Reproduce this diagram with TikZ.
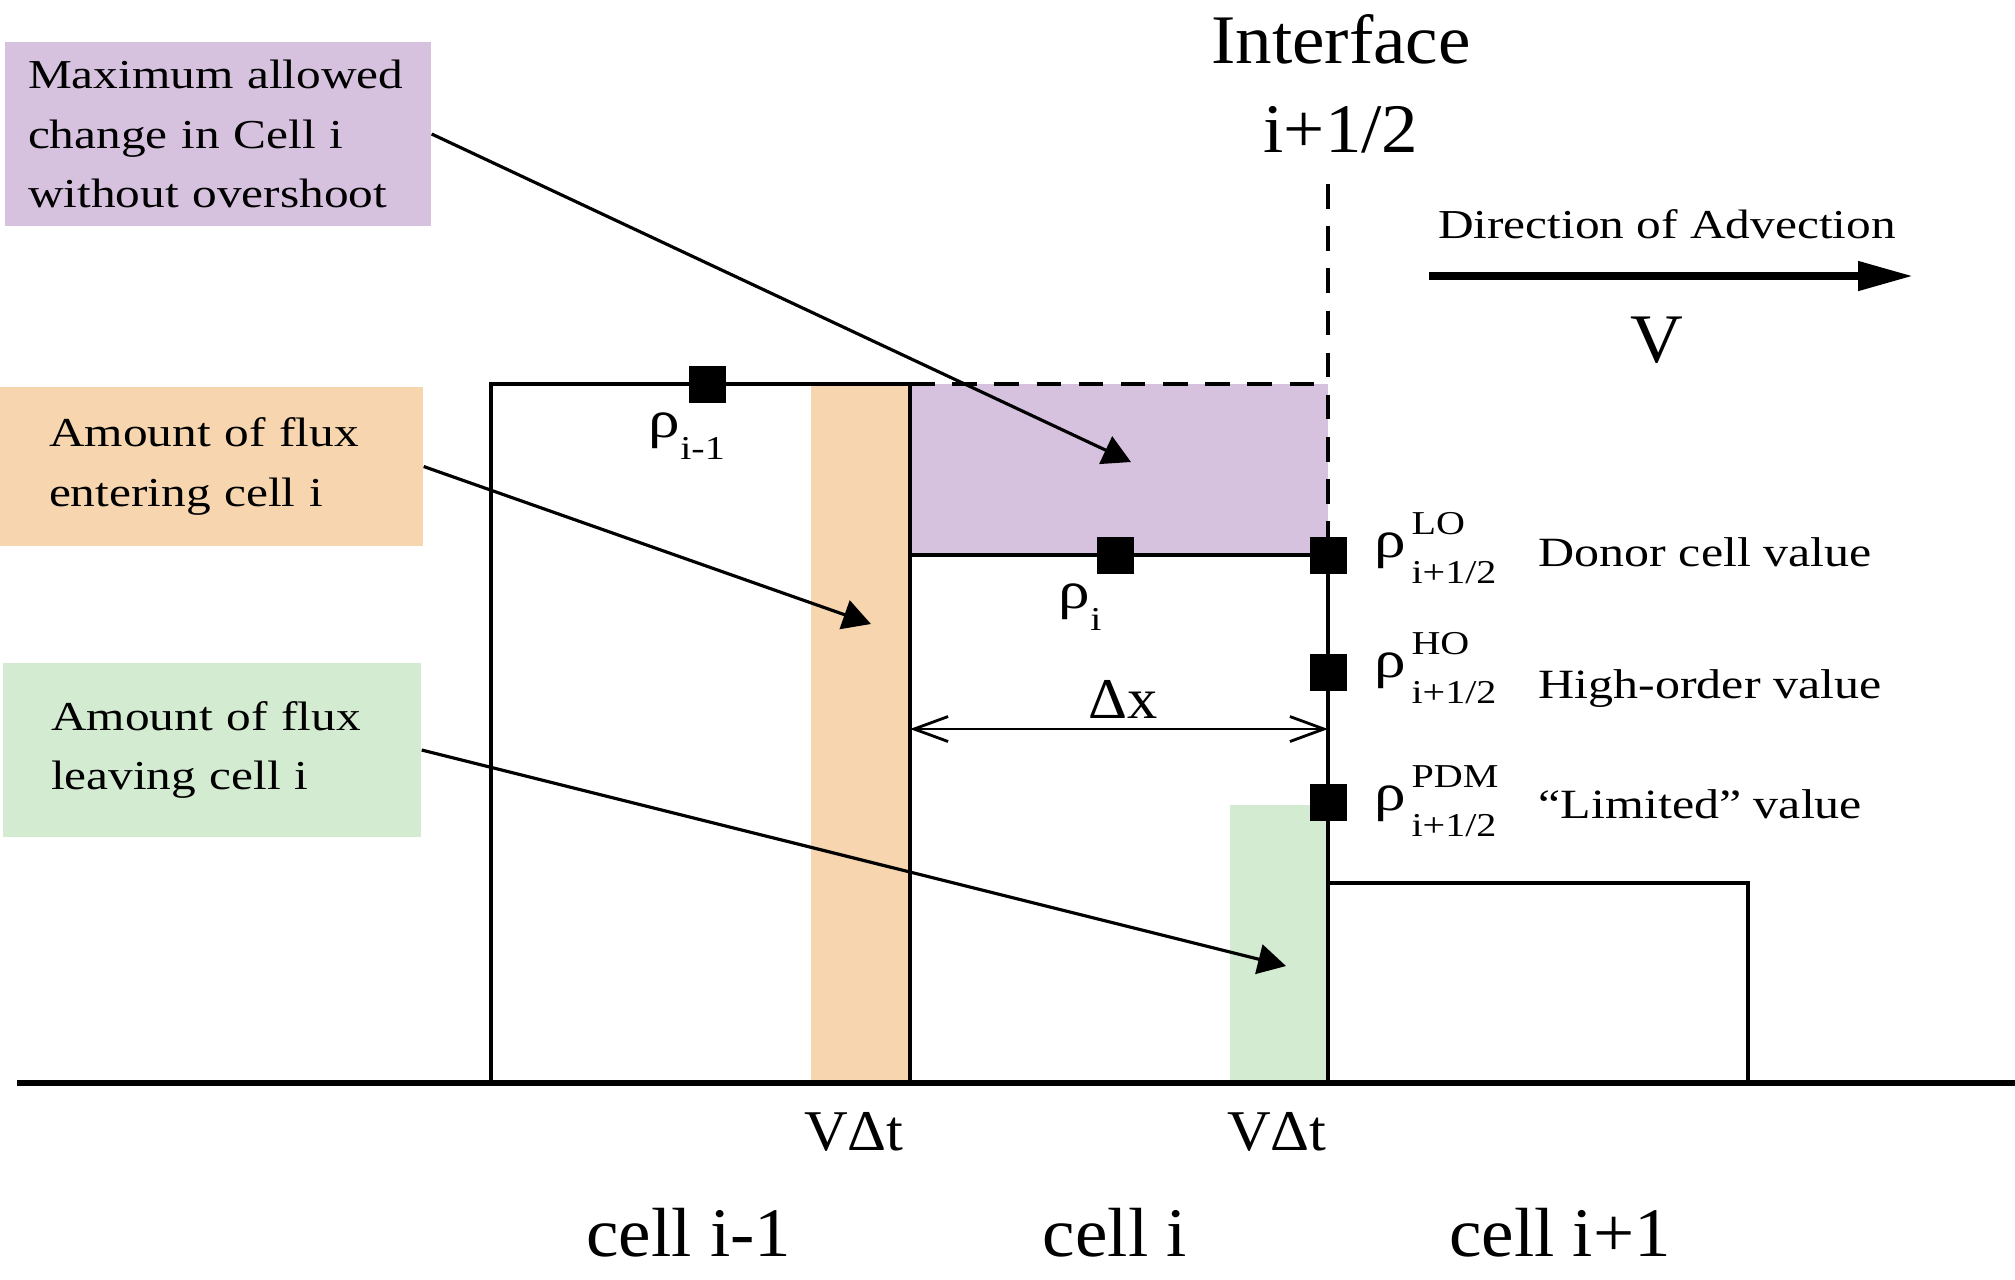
\documentclass[tikz,border=0pt]{standalone}
\usepackage{fontspec}
\setmainfont[FakeStretch=1.2]{Liberation Serif}
\newfontfamily\bigserif[FakeStretch=1.05]{Liberation Serif}
\usetikzlibrary{arrows.meta,positioning}
\definecolor{maxfill}{RGB}{214,194,222}
\definecolor{influx}{RGB}{246,213,175}
\definecolor{outflux}{RGB}{211,235,209}
\newcommand{\idxfont}{\fontsize{9.5}{10}\selectfont}
\newcommand{\dens}[2]{ρ\hspace{1.5pt}\rlap{\raisebox{6.5pt}{\idxfont #1}}\raisebox{-7.5pt}{\idxfont #2}}

\begin{document}
\begin{tikzpicture}[x=0.1mm,y=-0.1mm,
  every node/.style={inner sep=0pt},
  wall/.style={line width=1.2pt},
  iface/.style={line width=0.9pt},
  dashwall/.style={line width=1.2pt,dash pattern=on 7pt off 5pt},
  valsq/.style={fill=black,minimum size=3.7mm},
  infobox/.style={align=left,font=\fontsize{11.7}{17}\selectfont},
  pointer/.style={-{Triangle[length=2.8mm,width=3mm]},line width=0.9pt},
  advect/.style={-{Triangle[length=5.5mm,width=2.8mm]},line width=2.2pt},
  dimarrow/.style={{Straight Barb[length=3.4mm,width=2.5mm]}-{Straight Barb[length=3.4mm,width=2.5mm]},line width=0.8pt},
  bigtext/.style={font=\bigserif\fontsize{19.8}{23}\selectfont},
  desctext/.style={font=\fontsize{11.85}{15}\selectfont},
  rholabel/.style={font=\fontsize{15}{17}\selectfont},
  deltatext/.style={font=\bigserif\fontsize{16.4}{19}\selectfont}]
\useasboundingbox (0,0) rectangle (2015,1279);

\fill[influx] (811,384) rectangle (910,1083);
\fill[outflux] (1230,805) rectangle (1328,1083);
\fill[maxfill] (910,384) rectangle (1328,555);

\draw[wall] (491,1083) -- (491,384) -- (910,384) -- (910,1083);
\draw[wall] (910,555) -- (1328,555);
\draw[dashwall] (910,384) -- (1328,384);
\draw[dashwall] (1328,184) -- (1328,555);
\draw[iface] (1328,555) -- (1328,1083);
\draw[wall] (1328,883) -- (1748,883) -- (1748,1083);
\draw[line width=1.6pt] (17,1083) -- (2015,1083);

\node[valsq] (pim1) at (707,384) {};
\node[valsq] (pi) at (1115,555) {};
\node[valsq] (plo) at (1328,555) {};
\node[valsq] (pho) at (1328,672) {};
\node[valsq] (ppdm) at (1328,802) {};

\node[rholabel,anchor=base west] (rhoim1) at (648,437) {ρ\raisebox{-6.5pt}{\idxfont i-1}};
\node[rholabel,anchor=base west] (rhoi) at (1058,608) {ρ\raisebox{-6.5pt}{\idxfont i}};
\node[rholabel,anchor=base west] (rholo) at (1374,557) {\dens{LO}{i+1/2}};
\node[rholabel,anchor=base west] (rhoho) at (1374,677) {\dens{HO}{i+1/2}};
\node[rholabel,anchor=base west] (rhopdm) at (1374,810) {\dens{PDM}{i+1/2}};
\node[desctext,anchor=base west] (donor) at (1538,566) {Donor cell value};
\node[desctext,anchor=base west] (highord) at (1538,698) {High-order value};
\node[desctext,anchor=base west] (limited) at (1538,818) {“Limited” value};

\node[bigtext,anchor=base] (iftitle) at (1341,63) {Interface};
\node[bigtext,anchor=base] (ifidx) at (1341,152) {i+1/2};
\node[infobox,anchor=base] (advtitle) at (1667,238) {Direction of Advection};
\coordinate (advs) at (1429,276);
\coordinate (adve) at (1913,276);
\draw[advect] (advs) -- (adve);
\node[bigtext,anchor=base] (vel) at (1657,362) {V};

\coordinate (dxl) at (910,729);
\coordinate (dxr) at (1328,729);
\draw[dimarrow] (dxl) -- (dxr);
\node[deltatext,anchor=base] (dx) at (1123,718) {Δx};
\node[deltatext,anchor=base] (vdtin) at (854,1150) {VΔt};
\node[deltatext,anchor=base] (vdtout) at (1277,1150) {VΔt};

\node[bigtext,anchor=base] (cellim1) at (689,1256) {cell i-1};
\node[bigtext,anchor=base] (celli) at (1115,1256) {cell i};
\node[bigtext,anchor=base] (cellip1) at (1560,1256) {cell i+1};

\node[infobox,fill=maxfill,text width=3.8cm,inner xsep=2.3mm,minimum height=18.4mm] (maxbox) at (218,134) {Maximum allowed\\change in Cell i\\without overshoot};
\node[infobox,fill=influx,text width=3.25cm,inner xsep=4.9mm,minimum height=15.9mm] (inbox) at (211.5,466.5) {Amount of flux\\entering cell i};
\node[infobox,fill=outflux,text width=3.22cm,inner xsep=4.8mm,minimum height=17.4mm] (outbox) at (212,750) {Amount of flux\\leaving cell i};

\coordinate (tipmax) at (1131,462);
\coordinate (tipin) at (871,624);
\coordinate (tipout) at (1286,966);
\path[pointer]
(maxbox.east) edge (tipmax)
(inbox.east) edge (tipin)
(outbox.east) edge (tipout);
\end{tikzpicture}
\end{document}
